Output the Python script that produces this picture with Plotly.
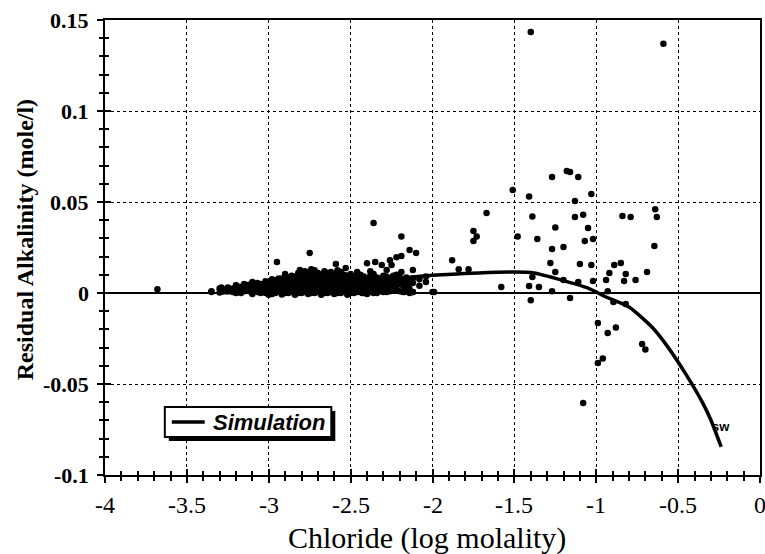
import plotly.graph_objects as go

# ---------------- data ----------------
# Simulation curve (log molality Cl, residual alkalinity)
sim_x = [-3.3, -3.0, -2.75, -2.5, -2.25, -2.0, -1.72, -1.5, -1.38, -1.21, -1.05,
         -0.94, -0.80, -0.66, -0.56, -0.45, -0.35, -0.30, -0.237]
sim_y = [0.0, 0.0015, 0.003, 0.005, 0.0075, 0.0097, 0.011, 0.0115, 0.011, 0.0071,
         0.0027, -0.0022, -0.0077, -0.0187, -0.030, -0.045, -0.0604, -0.0698, -0.0846]

# dense cluster of observations: (log Cl, residual alkalinity values at that Cl)
cluster_cols = [
    (-3.35, (0.0005, 0.001)), (-3.30, (0.0003, 0.0025)), (-3.28, (0.001, 0.002)),
    (-3.25, (0.001, 0.003)), (-3.22, (0.0005, 0.0025)), (-3.20, (0.0, 0.002, 0.004)),
    (-3.17, (0.0, 0.002, 0.0035)), (-3.15, (0.001, 0.003, 0.005)),
    (-3.12, (0.001, 0.003, 0.0045)), (-3.10, (-0.0005, 0.002, 0.004, 0.006)),
    (-3.07, (0.0005, 0.0025, 0.004, 0.0055)), (-3.05, (0.0, 0.0015, 0.003, 0.005)),
    (-3.02, (0.0, 0.002, 0.0035, 0.005, 0.0065)),
    (-3.00, (-0.001, 0.001, 0.0025, 0.004, 0.006)),
    (-2.98, (-0.0005, 0.0015, 0.003, 0.0045, 0.006, 0.0075)),
    (-2.96, (0.0, 0.002, 0.0035, 0.005, 0.007)),
    (-2.94, (0.0005, 0.002, 0.0035, 0.005, 0.0065, 0.008)),
    (-2.92, (-0.0008, 0.001, 0.003, 0.0045, 0.006, 0.008)),
    (-2.90, (0.0, 0.0015, 0.003, 0.0045, 0.006, 0.0075, 0.009)),
    (-2.88, (0.0, 0.0015, 0.003, 0.005, 0.0065, 0.0085)),
    (-2.86, (0.0005, 0.002, 0.0035, 0.005, 0.0065, 0.008, 0.0095)),
    (-2.84, (-0.001, 0.0005, 0.002, 0.004, 0.0055, 0.007, 0.009)),
    (-2.82, (0.0, 0.0015, 0.003, 0.0045, 0.006, 0.0075, 0.009, 0.011)),
    (-2.80, (0.0, 0.0015, 0.003, 0.0045, 0.006, 0.008, 0.0105)),
    (-2.78, (0.0005, 0.002, 0.0035, 0.005, 0.0065, 0.008, 0.010, 0.012)),
    (-2.76, (-0.0005, 0.001, 0.0025, 0.004, 0.0055, 0.007, 0.009, 0.0115)),
    (-2.74, (0.0, 0.0015, 0.003, 0.0045, 0.006, 0.0075, 0.009, 0.0105, 0.013)),
    (-2.72, (0.0, 0.0015, 0.003, 0.0045, 0.006, 0.0075, 0.0095, 0.0125)),
    (-2.70, (0.0005, 0.002, 0.0035, 0.005, 0.0065, 0.008, 0.0095, 0.011)),
    (-2.68, (-0.001, 0.0005, 0.002, 0.0035, 0.005, 0.0065, 0.008, 0.010)),
    (-2.66, (0.0, 0.0015, 0.003, 0.0045, 0.006, 0.0075, 0.009, 0.0105, 0.012)),
    (-2.64, (0.0, 0.0015, 0.003, 0.0045, 0.006, 0.0075, 0.009, 0.011)),
    (-2.62, (0.0005, 0.002, 0.0035, 0.005, 0.0065, 0.008, 0.0095, 0.0115)),
    (-2.60, (-0.0005, 0.001, 0.0025, 0.004, 0.0055, 0.007, 0.0085, 0.0105)),
    (-2.58, (0.0, 0.0015, 0.003, 0.0045, 0.006, 0.0075, 0.009, 0.0105, 0.0125)),
    (-2.56, (0.0, 0.0015, 0.003, 0.0045, 0.006, 0.0075, 0.009, 0.0115)),
    (-2.54, (0.0005, 0.002, 0.0035, 0.005, 0.0065, 0.008, 0.010)),
    (-2.52, (-0.001, 0.0005, 0.002, 0.0035, 0.005, 0.0065, 0.008, 0.0095)),
    (-2.50, (0.0, 0.0015, 0.003, 0.0045, 0.006, 0.0075, 0.009, 0.0105)),
    (-2.48, (0.0, 0.0015, 0.003, 0.0045, 0.006, 0.0075, 0.009)),
    (-2.46, (0.0005, 0.002, 0.0035, 0.005, 0.0065, 0.008, 0.0095, 0.0115)),
    (-2.44, (0.0005, 0.002, 0.0035, 0.005, 0.0065, 0.008, 0.010)),
    (-2.42, (0.0, 0.0015, 0.003, 0.0045, 0.006, 0.0075, 0.009)),
    (-2.40, (-0.0005, 0.001, 0.003, 0.0045, 0.006, 0.0075)),
    (-2.38, (0.0005, 0.002, 0.0035, 0.005, 0.0065, 0.008, 0.0095, 0.012)),
    (-2.36, (0.0, 0.002, 0.0035, 0.005, 0.007, 0.0085, 0.0105)),
    (-2.34, (0.0, 0.0015, 0.003, 0.005, 0.0065, 0.0085)),
    (-2.32, (0.001, 0.003, 0.0045, 0.006, 0.008)),
    (-2.30, (0.0005, 0.002, 0.004, 0.0055, 0.0075, 0.0095)),
    (-2.28, (0.0005, 0.0035, 0.0055, 0.007, 0.009)),
    (-2.26, (0.001, 0.0025, 0.005, 0.0065, 0.008)),
    (-2.24, (0.002, 0.0045, 0.006, 0.0075, 0.0095)),
    (-2.22, (0.0015, 0.0035, 0.0055, 0.008, 0.010)),
    (-2.20, (0.001, 0.005, 0.007, 0.0085)),
    (-2.18, (0.0005, 0.004, 0.006, 0.0075)),
    (-2.16, (0.0035, 0.0065, 0.0085)),
    (-2.14, (0.002, 0.005, 0.007)),
    (-2.12, (0.0005, 0.0055, 0.008)),
    (-2.08, (0.004, 0.0075)),
    (-2.04, (0.006, 0.009)),
]

# scattered observations
scatter_pts = [
    (-3.68, 0.002), (-3.29, 0.003), (-3.20, 0.0043), (-2.95, 0.017), (-2.90, 0.0104),
    (-2.81, 0.0126), (-2.75, 0.022), (-2.59, 0.0159), (-2.53, 0.0137), (-2.40, 0.0164),
    (-2.36, 0.0385), (-2.35, 0.017), (-2.31, 0.0154), (-2.28, 0.0126), (-2.26, 0.018),
    (-2.25, 0.0154), (-2.22, 0.0197), (-2.19, 0.031), (-2.19, 0.0203), (-2.19, 0.0115),
    (-2.14, 0.0236), (-2.12, 0.0126), (-2.10, 0.022), (-2.12, 0.0005), (-2.17, 0.0005),
    (-2.00, 0.0005), (-2.43, 0.0), (-2.33, 0.003), (-1.88, 0.018), (-1.84, 0.013),
    (-1.78, 0.013), (-1.75, 0.034), (-1.73, 0.031), (-1.75, 0.0286), (-1.67, 0.044),
    (-1.58, 0.0033), (-1.51, 0.0566), (-1.48, 0.031), (-1.41, 0.053), (-1.39, 0.042),
    (-1.40, 0.1434), (-1.41, 0.0038), (-1.39, 0.0088), (-1.36, 0.0297), (-1.35, 0.0033),
    (-1.28, 0.0165), (-1.27, 0.0637), (-1.27, 0.0242), (-1.27, 0.001), (-1.25, 0.036),
    (-1.25, 0.0115), (-1.20, 0.0253), (-1.18, 0.067), (-1.16, 0.0665), (-1.11, 0.0637),
    (-1.03, 0.0544), (-1.13, 0.0505), (-1.13, 0.0418), (-1.08, 0.043), (-1.05, 0.0357),
    (-1.07, 0.0286), (-1.02, 0.0297), (-1.10, 0.016), (-1.03, 0.0154), (-0.89, 0.0154),
    (-0.85, 0.0165), (-0.92, 0.011), (-0.82, 0.0104), (-0.94, 0.0071), (-0.83, 0.0066),
    (-0.76, 0.0071), (-0.69, 0.0115), (-0.645, 0.0258), (-0.84, 0.0423), (-0.79, 0.0418),
    (-0.64, 0.046), (-0.63, 0.0418), (-0.93, 0.001), (-1.16, -0.0028), (-1.40, -0.004),
    (-0.82, -0.006), (-0.895, -0.005), (-1.11, 0.006), (-1.02, 0.0066), (-1.20, 0.0071),
    (-0.99, -0.0165), (-0.93, -0.022), (-0.88, -0.019), (-0.72, -0.028), (-0.70, -0.031),
    (-0.99, -0.0385), (-0.96, -0.036), (-1.08, -0.0604), (-0.59, 0.137), (-1.99, 0.0005),
    (-2.14, 0.0),
]

x_ticks = [-4, -3.5, -3, -2.5, -2, -1.5, -1, -0.5, 0]
x_ticktext = ["-4", "-3.5", "-3", "-2.5", "-2", "-1.5", "-1", "-0.5", "0"]
y_ticks = [-0.1, -0.05, 0, 0.05, 0.1, 0.15]
y_ticktext = ["-0.1", "-0.05", "0", "0.05", "0.1", "0.15"]

x_title = "Chloride (log molality)"
y_title = "Residual Alkalinity (mole/l)"
legend_text = "Simulation"
end_label = "sw"
end_label_pos = (-0.237, -0.0736)

# ---------------- layout geometry ----------------
W, H = 765, 554
L, R, T, B = 105, 3, 20, 79
PW, PH = W - L - R, H - T - B


def px(xp):
    return (xp - L) / PW


def py(yp):
    return (H - B - yp) / PH


obs_x, obs_y = [], []
for cx, ys in cluster_cols:
    for cy in ys:
        obs_x.append(cx)
        obs_y.append(cy)
for sx, sy in scatter_pts:
    obs_x.append(sx)
    obs_y.append(sy)

fig = go.Figure()
fig.add_trace(go.Scatter(x=obs_x, y=obs_y, mode="markers",
                         marker=dict(color="black", size=6.5, line=dict(width=0)),
                         showlegend=False))
fig.add_trace(go.Scatter(x=sim_x, y=sim_y, mode="lines", name=legend_text,
                         line=dict(color="black", width=3.5, shape="spline", smoothing=0.6),
                         showlegend=False))
# helper trace for the inside-tick overlay axes
fig.add_trace(go.Scatter(x=[-4], y=[-0.1], xaxis="x2", yaxis="y2", mode="markers",
                         marker=dict(opacity=0), showlegend=False, hoverinfo="skip"))

serif = "Liberation Serif"
axis_common = dict(showline=True, linecolor="black", linewidth=2, mirror=True,
                   ticks="outside", ticklen=6, tickwidth=2, tickcolor="black",
                   showticklabels=False,
                   showgrid=True, gridcolor="black", gridwidth=1, griddash="dot")

fig.update_layout(
    width=W, height=H, margin=dict(l=L, r=R, t=T, b=B),
    paper_bgcolor="white", plot_bgcolor="white",
    font=dict(family=serif, color="black"),
    xaxis=dict(range=[-4, 0], tickvals=x_ticks,
               minor=dict(tick0=-4, dtick=0.1, ticks="outside", ticklen=4,
                          tickwidth=1.5, tickcolor="black", showgrid=False),
               zeroline=False, **axis_common),
    yaxis=dict(range=[-0.1, 0.15], tickvals=y_ticks,
               minor=dict(tick0=-0.1, dtick=0.01, ticks="outside", ticklen=4,
                          tickwidth=1.5, tickcolor="black", showgrid=False),
               zeroline=True, zerolinecolor="black", zerolinewidth=1.5,
               **axis_common),
    xaxis2=dict(range=[-4, 0], overlaying="x", anchor="y", side="bottom",
                tickvals=x_ticks, showticklabels=False, ticks="inside", ticklen=6,
                tickwidth=2, tickcolor="black", showgrid=False, zeroline=False,
                showline=False,
                minor=dict(tick0=-4, dtick=0.1, ticks="inside", ticklen=4,
                           tickwidth=1.5, tickcolor="black", showgrid=False)),
    yaxis2=dict(range=[-0.1, 0.15], overlaying="y", anchor="x", side="left",
                tickvals=y_ticks, showticklabels=False, ticks="inside", ticklen=6,
                tickwidth=2, tickcolor="black", showgrid=False, zeroline=False,
                showline=False,
                minor=dict(tick0=-0.1, dtick=0.01, ticks="inside", ticklen=4,
                           tickwidth=1.5, tickcolor="black", showgrid=False)),
    showlegend=False,
)

# tick labels (serif), positioned on the axes' data coordinates
for v, t in zip(x_ticks, x_ticktext):
    fig.add_annotation(text=t, x=v, xref="x", y=py(505), yref="paper",
                       xanchor="center", yanchor="middle", showarrow=False,
                       font=dict(family=serif, size=24, color="black"))
for v, t in zip(y_ticks, y_ticktext):
    fig.add_annotation(text=t, x=px(91), xref="paper", y=v, yref="y",
                       xanchor="right", yanchor="middle", showarrow=False,
                       font=dict(family=serif, size=22, color="black", weight="bold"))

# axis titles
fig.add_annotation(text=y_title, xref="paper", yref="paper", x=px(25), y=py(240),
                   xanchor="center", yanchor="middle", textangle=-90, showarrow=False,
                   font=dict(family=serif, size=24, color="black", weight="bold"))
fig.add_annotation(text=x_title, xref="paper", yref="paper", x=px(428), y=py(538),
                   xanchor="center", yanchor="middle", showarrow=False,
                   font=dict(family=serif, size=30, color="black"))

# end label
fig.add_annotation(text=end_label, x=end_label_pos[0], y=end_label_pos[1],
                   xanchor="center", yanchor="middle", showarrow=False,
                   font=dict(family="Liberation Sans", size=13, color="black", weight="bold"))

# legend box with shadow
fig.add_shape(type="rect", xref="paper", yref="paper", x0=px(169), x1=px(336),
              y0=py(441), y1=py(411), fillcolor="black", line=dict(width=0))
fig.add_shape(type="rect", xref="paper", yref="paper", x0=px(165), x1=px(332),
              y0=py(437), y1=py(407), fillcolor="white", line=dict(color="black", width=2))
fig.add_shape(type="line", xref="paper", yref="paper", x0=px(172), x1=px(205),
              y0=py(422), y1=py(422), line=dict(color="black", width=3.5))
fig.add_annotation(text=legend_text, xref="paper", yref="paper", x=px(211), y=py(422),
                   xanchor="left", yanchor="middle", showarrow=False,
                   font=dict(family="Liberation Sans", size=22, color="black",
                             weight="bold", style="italic"))

fig.write_html("out.html")
